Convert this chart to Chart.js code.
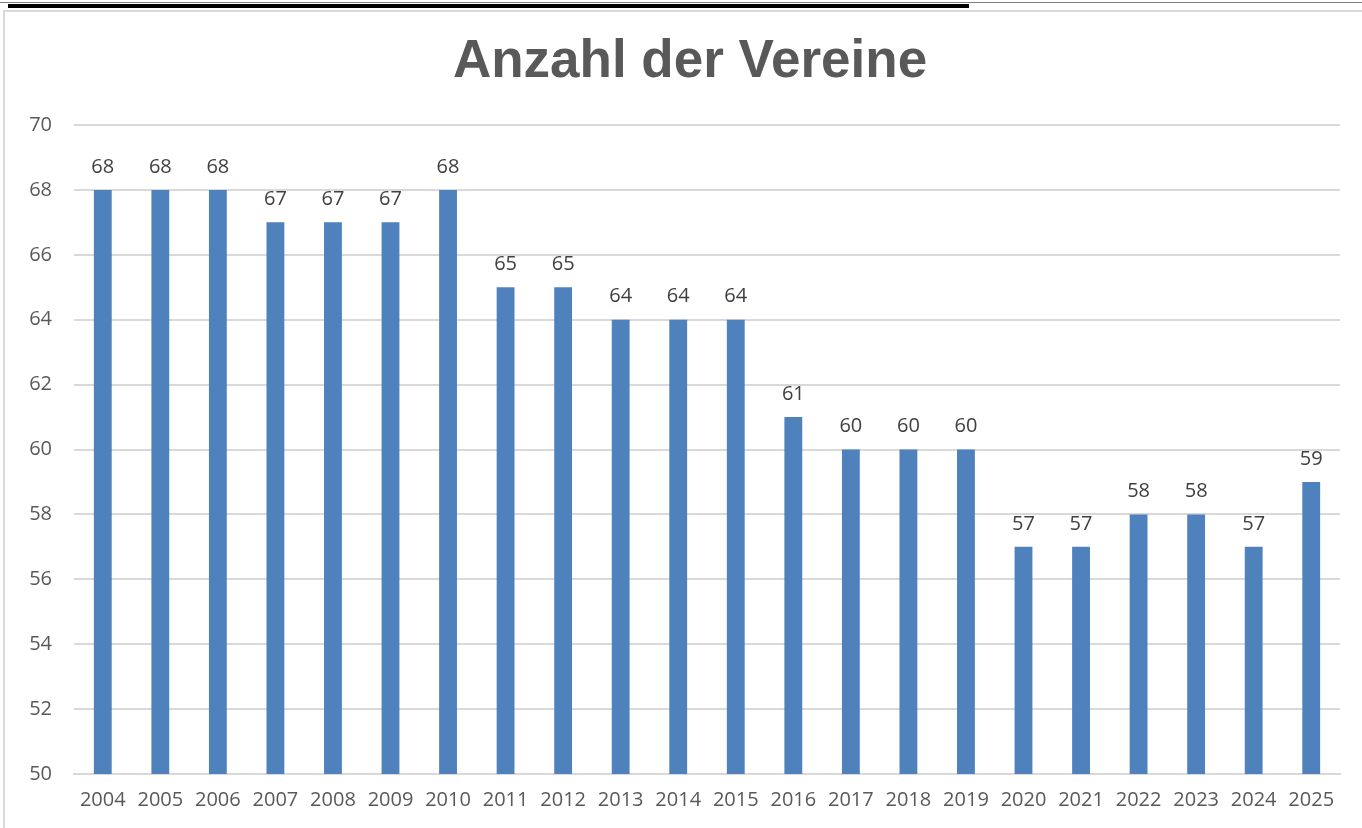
<!DOCTYPE html>
<html>
<head>
<meta charset="utf-8">
<title>Anzahl der Vereine</title>
<script src="https://cdn.jsdelivr.net/npm/chart.js@4"></script>
<style>
  html, body { margin:0; padding:0; background:#fff; overflow:hidden; }
  #topline { position:absolute; left:0; top:2px; width:1362px; height:1px; background:#808080; }
  #topbar { position:absolute; left:8px; top:4px; width:961px; height:4px; background:#000; }
  #frame { position:absolute; left:3px; top:10px; width:1362px; height:830px; border:2px solid #d9d9d9; box-sizing:border-box; }
  #chart { position:absolute; left:0; top:0; }
</style>
</head>
<body>
<div id="topline"></div>
<div id="topbar"></div>
<div id="frame"></div>
<canvas id="chart" width="1362" height="828"></canvas>
<script>
// Vereine pro Jahr
const years = ['2004','2005','2006','2007','2008','2009','2010','2011','2012','2013','2014',
               '2015','2016','2017','2018','2019','2020','2021','2022','2023','2024','2025'];
const vereine = [68,68,68,67,67,67,68,65,65,64,64,64,61,60,60,60,57,57,58,58,57,59];
const yMin = 50;
const yMax = 70;
const yStep = 2;
const chartTitle = 'Anzahl der Vereine';

const textColor = '#595959';

// title centred over the whole frame (like the Excel original), plus value labels above the bars
const decorations = {
  id: 'decorations',
  afterDraw(chart) {
    const ctx = chart.ctx;
    ctx.save();
    ctx.font = 'bold 53px "Liberation Sans", Arial, sans-serif';
    ctx.fillStyle = textColor;
    ctx.textAlign = 'center';
    ctx.textBaseline = 'middle';
    ctx.fillText(chartTitle, 690, 62);
    ctx.restore();
  },
  afterDatasetsDraw(chart) {
    const ctx = chart.ctx;
    const meta = chart.getDatasetMeta(0);
    ctx.save();
    ctx.font = '20px "Open Sans"';
    ctx.fillStyle = '#404040';
    ctx.textAlign = 'center';
    ctx.textBaseline = 'bottom';
    meta.data.forEach((bar, i) => {
      ctx.fillText(vereine[i], bar.x, bar.y - 13);
    });
    ctx.restore();
  }
};

new Chart(document.getElementById('chart'), {
  type: 'bar',
  data: {
    labels: years,
    datasets: [{
      data: vereine,
      backgroundColor: '#4f81bd',
      categoryPercentage: 1,
      barPercentage: 0.31
    }]
  },
  options: {
    responsive: false,
    animation: false,
    layout: { padding: { left: 20, right: 22, top: 125, bottom: 0 } },
    plugins: {
      legend: { display: false },
      tooltip: { enabled: false },
      title: { display: false }
    },
    scales: {
      x: {
        grid: { display: false, drawTicks: false },
        border: { color: '#d9d9d9', width: 2 },
        ticks: { color: textColor, font: { family: '"Open Sans"', size: 20 }, padding: 14, maxRotation: 0 },
        afterFit(scale) { scale.height = 54; }
      },
      y: {
        min: yMin,
        max: yMax,
        grid: { color: '#d9d9d9', lineWidth: 2, drawTicks: false },
        border: { display: false },
        ticks: { stepSize: yStep, color: textColor, font: { family: '"Open Sans"', size: 20 }, padding: 22 },
        afterFit(scale) { scale.width = 54; }
      }
    }
  },
  plugins: [decorations]
});
</script>
</body>
</html>
